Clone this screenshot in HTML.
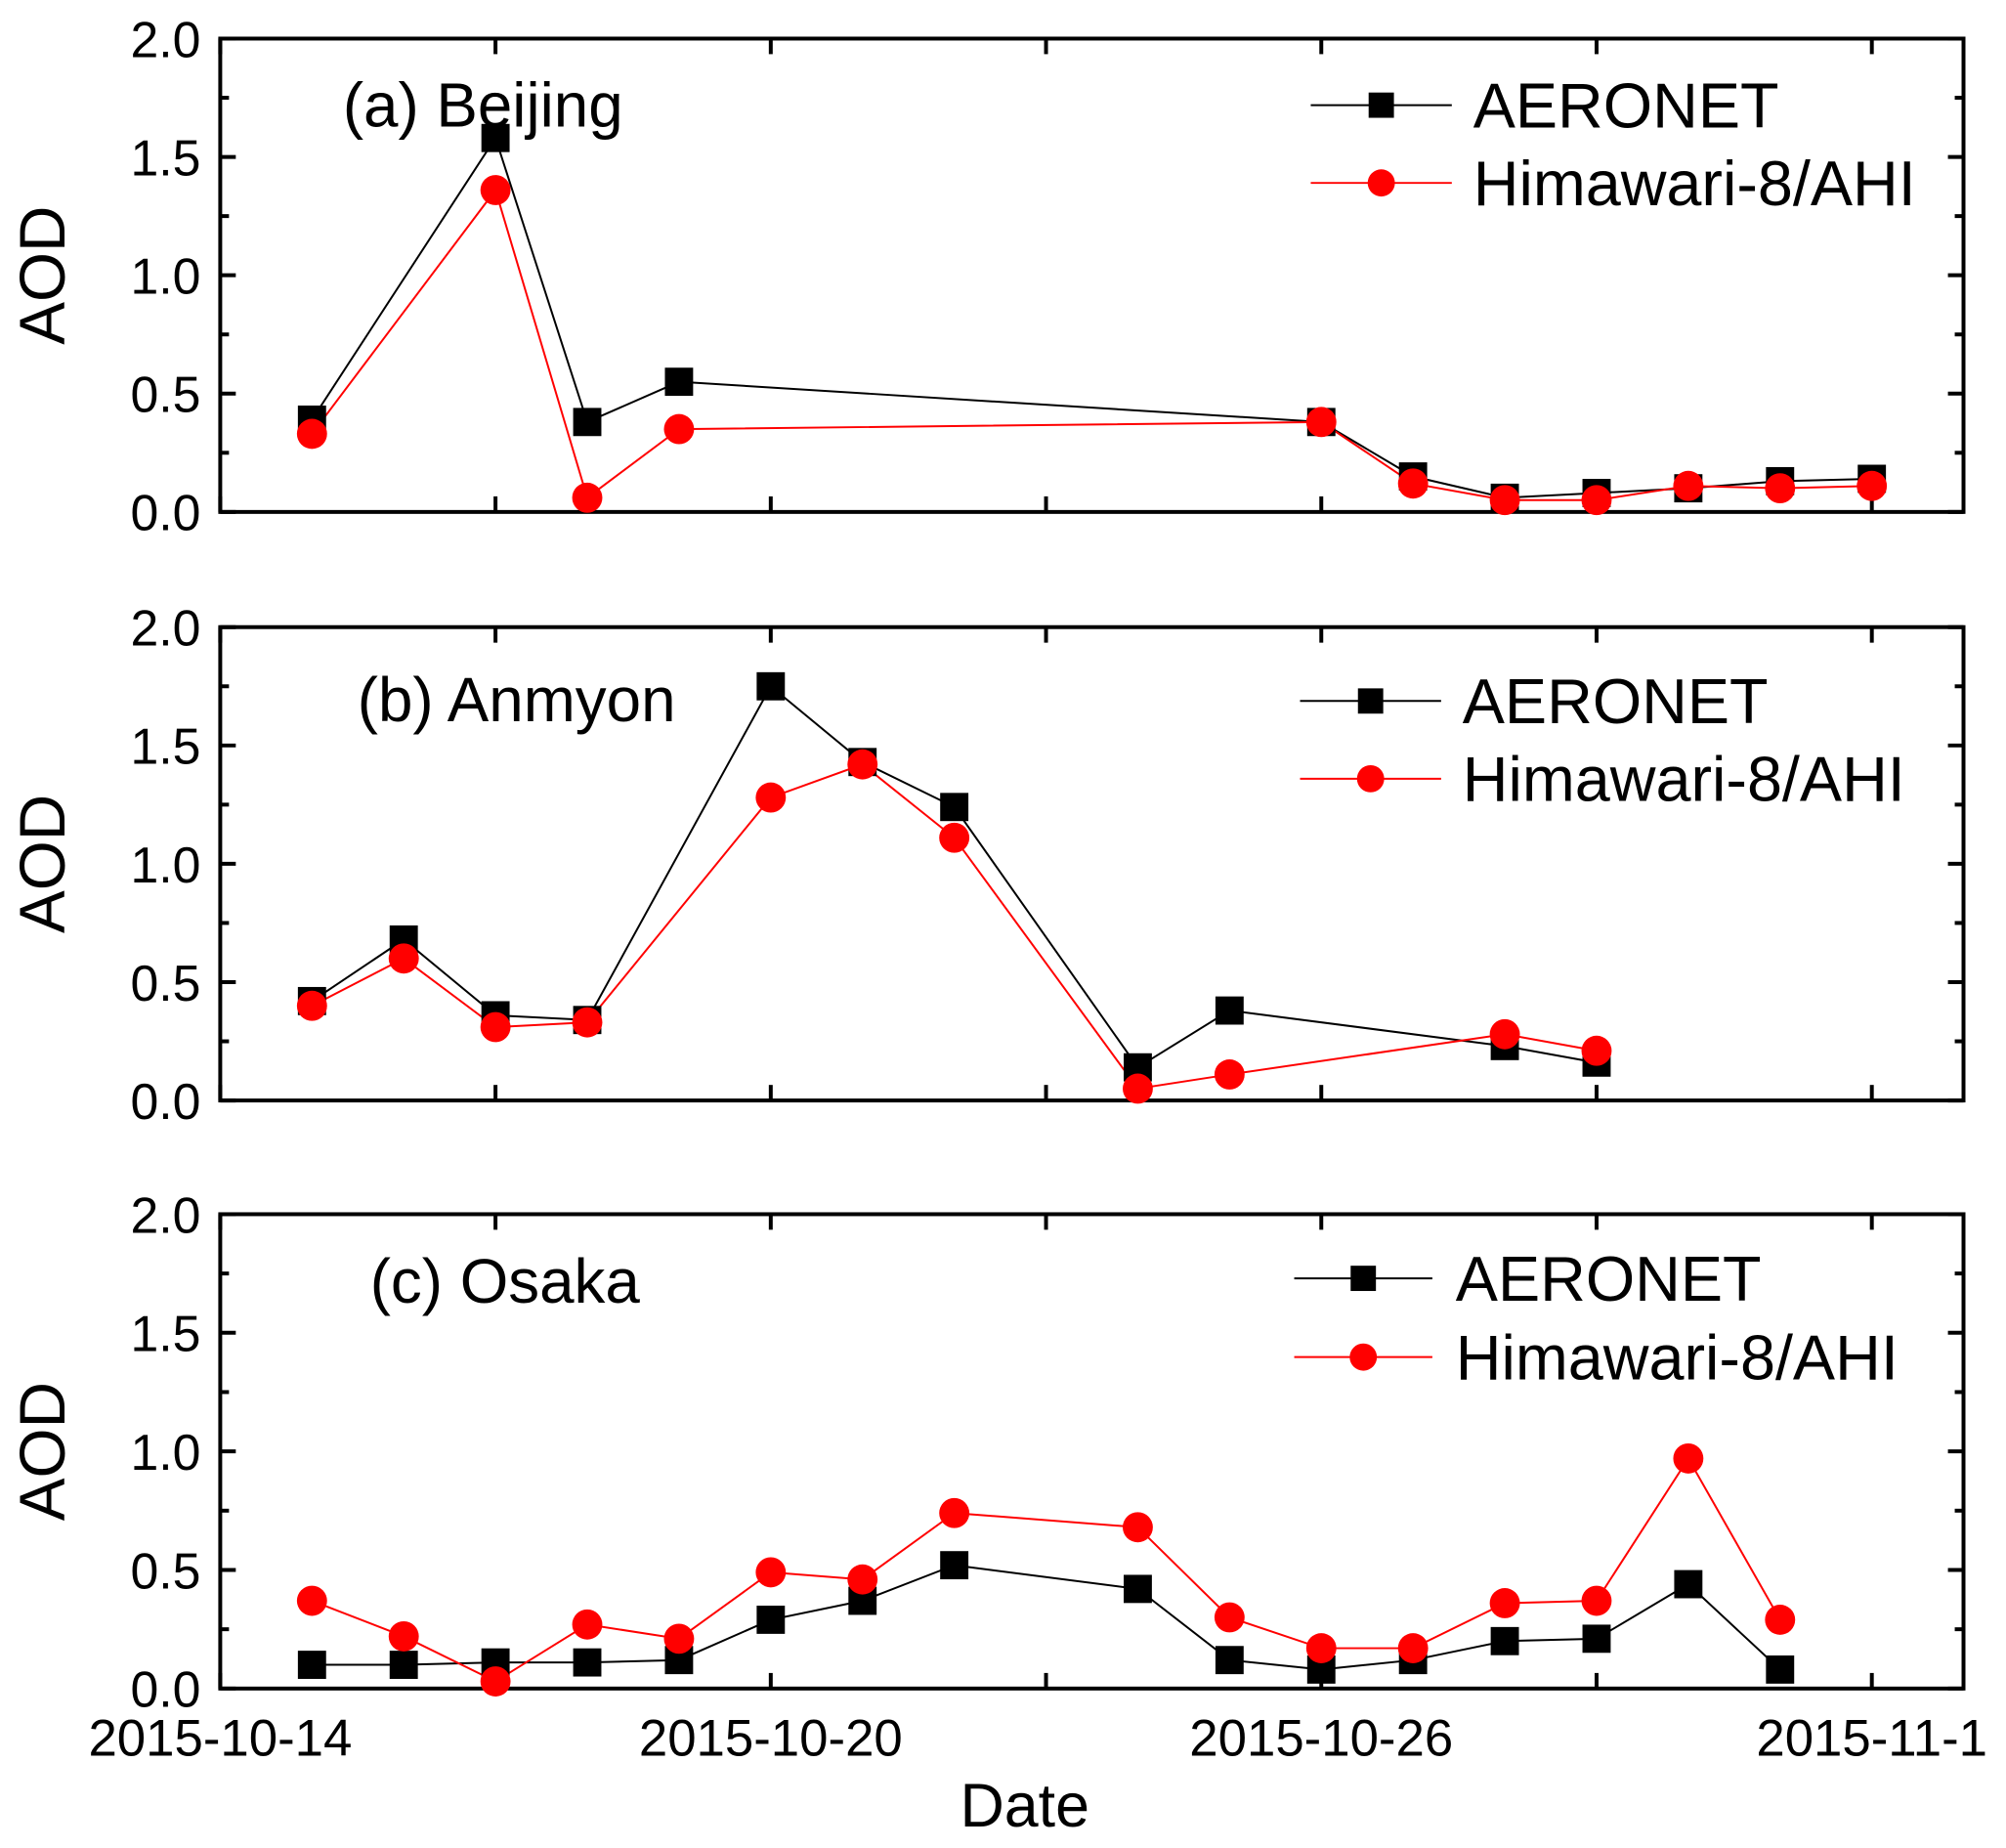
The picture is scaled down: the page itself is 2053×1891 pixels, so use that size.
<!DOCTYPE html>
<html><head><meta charset="utf-8"><style>
html,body{margin:0;padding:0;background:#fff;}
svg{display:block;font-family:"Liberation Sans",Arial,sans-serif;}
</style></head><body>
<svg width="2053" height="1891" viewBox="0 0 2053 1891" xmlns="http://www.w3.org/2000/svg"><g id="s" transform="matrix(0.9956 0 0 0.9946 -1.6 0.2)"></g></svg>
<script>
const S=document.getElementById('s');
let h='';
const L=228,R=2020,DX=94.32;
const X=d=>L+DX*d;
const panels=[
 {t:39.5,b:526.5,lab:'(a) Beijing',lx:354,ly:130,lg:{x0:1349,x1:1494,tx:1516,y1:108,y2:188},
  a:[[1,.39],[3,1.58],[4,.38],[5,.55],[12,.38],[13,.15],[14,.06],[15,.08],[16,.10],[17,.13],[18,.14]],
  h:[[1,.33],[3,1.36],[4,.06],[5,.35],[12,.38],[13,.12],[14,.05],[15,.05],[16,.11],[17,.10],[18,.11]]},
 {t:645,b:1132,lab:'(b) Anmyon',lx:369,ly:742,lg:{x0:1338,x1:1483,tx:1505,y1:721,y2:801},
  a:[[1,.42],[2,.68],[3,.36],[4,.34],[6,1.75],[7,1.43],[8,1.24],[10,.14],[11,.38],[14,.23],[15,.16]],
  h:[[1,.40],[2,.60],[3,.31],[4,.33],[6,1.28],[7,1.42],[8,1.11],[10,.05],[11,.11],[14,.28],[15,.21]]},
 {t:1249,b:1737,lab:'(c) Osaka',lx:382,ly:1340,lg:{x0:1332,x1:1474,tx:1498,y1:1315,y2:1396},
  a:[[1,.10],[2,.10],[3,.11],[4,.11],[5,.12],[6,.29],[7,.37],[8,.52],[10,.42],[11,.12],[12,.08],[13,.12],[14,.20],[15,.21],[16,.44],[17,.08]],
  h:[[1,.37],[2,.22],[3,.03],[4,.27],[5,.21],[6,.49],[7,.46],[8,.74],[10,.68],[11,.30],[12,.17],[13,.17],[14,.36],[15,.37],[16,.97],[17,.29]]}
];
panels.forEach((p,i)=>{
 const Y=v=>p.b-(p.b-p.t)*v/2;
 for(let k=0;k<=8;k++){const y=Y(k*0.25),len=k%2?9:16;
  h+=`<line x1="${L}" y1="${y}" x2="${L+len}" y2="${y}" stroke="#000" stroke-width="4"/>`;
  h+=`<line x1="${R}" y1="${y}" x2="${R-len}" y2="${y}" stroke="#000" stroke-width="4"/>`;
  if(k%2==0) h+=`<text x="${L-20}" y="${y+19}" font-size="52" text-anchor="end">${(k*0.25).toFixed(1)}</text>`;
 }
 for(let d=0;d<=19;d+=3){const x=X(d),len=16;
  h+=`<line x1="${x}" y1="${p.b}" x2="${x}" y2="${p.b-len}" stroke="#000" stroke-width="4"/>`;
  h+=`<line x1="${x}" y1="${p.t}" x2="${x}" y2="${p.t+len}" stroke="#000" stroke-width="4"/>`;
 }
 h+=`<rect x="${L}" y="${p.t}" width="${R-L}" height="${p.b-p.t}" fill="none" stroke="#000" stroke-width="4"/>`;
 const yc=(p.t+p.b)/2;
 h+=`<text transform="translate(68,${yc}) rotate(-90)" font-size="66" text-anchor="middle">AOD</text>`;
 h+=`<text x="${p.lx}" y="${p.ly}" font-size="64">${p.lab}</text>`;
 const line=(arr,c)=>`<polyline points="${arr.map(q=>X(q[0])+','+Y(q[1])).join(' ')}" fill="none" stroke="${c}" stroke-width="2"/>`;
 h+=line(p.a,'#000');h+=line(p.h,'#f00');
 p.a.forEach(q=>{h+=`<rect x="${X(q[0])-14.5}" y="${Y(q[1])-14.5}" width="29" height="29" fill="#000"/>`;});
 p.h.forEach(q=>{h+=`<circle cx="${X(q[0])}" cy="${Y(q[1])}" r="15.5" fill="#f00"/>`;});
 const g=p.lg,m=(g.x0+g.x1)/2;
 h+=`<line x1="${g.x0}" y1="${g.y1}" x2="${g.x1}" y2="${g.y1}" stroke="#000" stroke-width="2"/><rect x="${m-13}" y="${g.y1-13}" width="26" height="26" fill="#000"/>`;
 h+=`<line x1="${g.x0}" y1="${g.y2}" x2="${g.x1}" y2="${g.y2}" stroke="#f00" stroke-width="2"/><circle cx="${m}" cy="${g.y2}" r="14" fill="#f00"/>`;
 h+=`<text x="${g.tx}" y="${g.y1+23}" font-size="65">AERONET</text>`;
 h+=`<text x="${g.tx}" y="${g.y2+23}" font-size="65">Himawari-8/AHI</text>`;
});
[['2015-10-14',0],['2015-10-20',6],['2015-10-26',12],['2015-11-1',18]].forEach(a=>{
 h+=`<text x="${X(a[1])}" y="1806" font-size="53" text-anchor="middle">${a[0]}</text>`;});
h+=`<text x="1055" y="1879" font-size="63" text-anchor="middle">Date</text>`;
S.innerHTML=h;
</script>
</body></html>
